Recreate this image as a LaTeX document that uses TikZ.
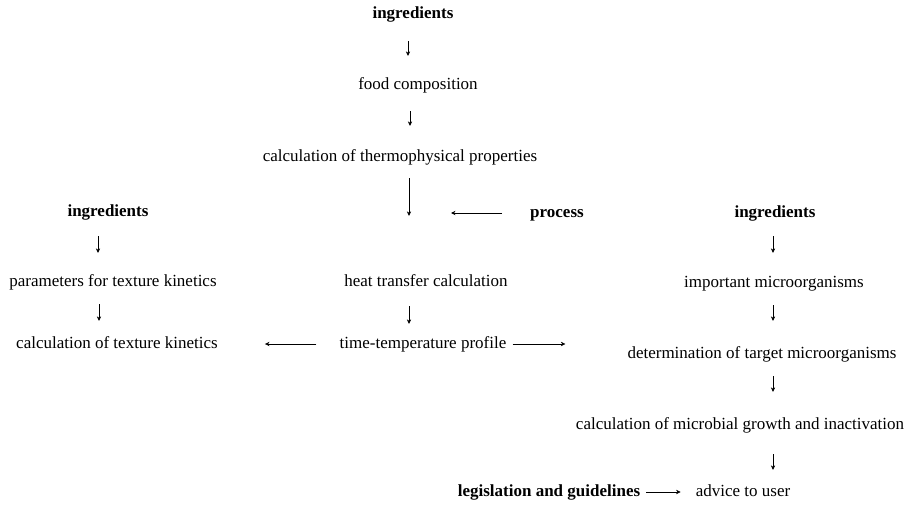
\documentclass[tikz,border=0pt]{standalone}
\usepackage{fontspec}
\setmainfont{Liberation Serif}
\usetikzlibrary{arrows.meta}
\begin{document}
\begin{tikzpicture}[x=1pt,y=-1pt,
  lbl/.style={inner sep=0pt, text height=12pt, text depth=4pt, font=\fontsize{17}{20}\selectfont},
  head/.style={lbl, font=\fontsize{17}{20}\selectfont\bfseries},
  arr/.style={-{Stealth[length=4.5pt,width=4.4pt]}, line width=0.55pt}]
\useasboundingbox (0,0) rectangle (914,506);
% centre column
\node[head] (ingT) at (413,15) {ingredients};
\node[lbl] (food) at (418,85) {food composition};
\node[lbl] (thermo) at (400,157) {calculation of thermophysical properties};
\node[head] (process) at (557,213) {process};
\coordinate (junc) at (409,213);
\node[lbl] (heat) at (426,282) {heat transfer calculation};
\node[lbl] (ttp) at (423,344) {time-temperature profile};
% left column
\node[head] (ingL) at (108,212) {ingredients};
\node[lbl] (par) at (113,282) {parameters for texture kinetics};
\node[lbl] (calcT) at (117,344) {calculation of texture kinetics};
% right column
\node[head] (ingR) at (775,213) {ingredients};
\node[lbl] (imp) at (774,283) {important microorganisms};
\node[lbl] (det) at (762,354) {determination of target microorganisms};
\node[lbl] (micro) at (740,425) {calculation of microbial growth and inactivation};
\node[head] (leg) at (549,492) {legislation and guidelines};
\node[lbl] (adv) at (743,492) {advice to user};
% centre arrows
\draw[arr, shorten <=18pt, shorten >=21pt] ([xshift=-5pt]ingT.south) -- ([xshift=-5pt]ingT.south |- food.north);
\draw[arr, shorten <=18pt, shorten >=23pt] ([xshift=-8pt]food.south) -- ([xshift=-8pt]food.south |- thermo.north);
\draw[arr, shorten <=13pt, shorten >=58pt] ([xshift=9pt]thermo.south) -- ([xshift=9pt]thermo.south |- heat.north);
\draw[arr, shorten <=28pt, shorten >=42pt] (process) -- (junc);
\draw[arr, shorten <=16pt, shorten >=12pt] ([xshift=-14pt]ttp.north |- heat.south) -- ([xshift=-14pt]ttp.north);
\draw[arr, shorten <=23pt, shorten >=47pt] (ttp) -- (calcT);
\draw[arr, shorten <=6pt, shorten >=62pt] (ttp) -- (ttp -| det.west);
% left arrows
\draw[arr, shorten <=16pt, shorten >=21pt] ([xshift=-10pt]ingL.south) -- ([xshift=-10pt]ingL.south |- par.north);
\draw[arr, shorten <=14pt, shorten >=15pt] ([xshift=-14pt]par.south) -- ([xshift=-14pt]par.south |- calcT.north);
% right arrows
\draw[arr, shorten <=15pt, shorten >=22pt] ([xshift=-2pt]ingR.south) -- ([xshift=-2pt]ingR.south |- imp.north);
\draw[arr, shorten <=14pt, shorten >=25pt] ([xshift=-2pt]imp.south -| ingR.south) -- ([xshift=-2pt]ingR.south |- det.north);
\draw[arr, shorten <=14pt, shorten >=25pt] ([xshift=-2pt]det.south -| ingR.south) -- ([xshift=-2pt]ingR.south |- micro.north);
\draw[arr, shorten <=21pt, shorten >=14pt] ([xshift=-2pt]micro.south -| ingR.south) -- ([xshift=-2pt]ingR.south |- adv.north);
\draw[arr, shorten <=6pt, shorten >=15pt] (leg) -- (adv);
\end{tikzpicture}
\end{document}
